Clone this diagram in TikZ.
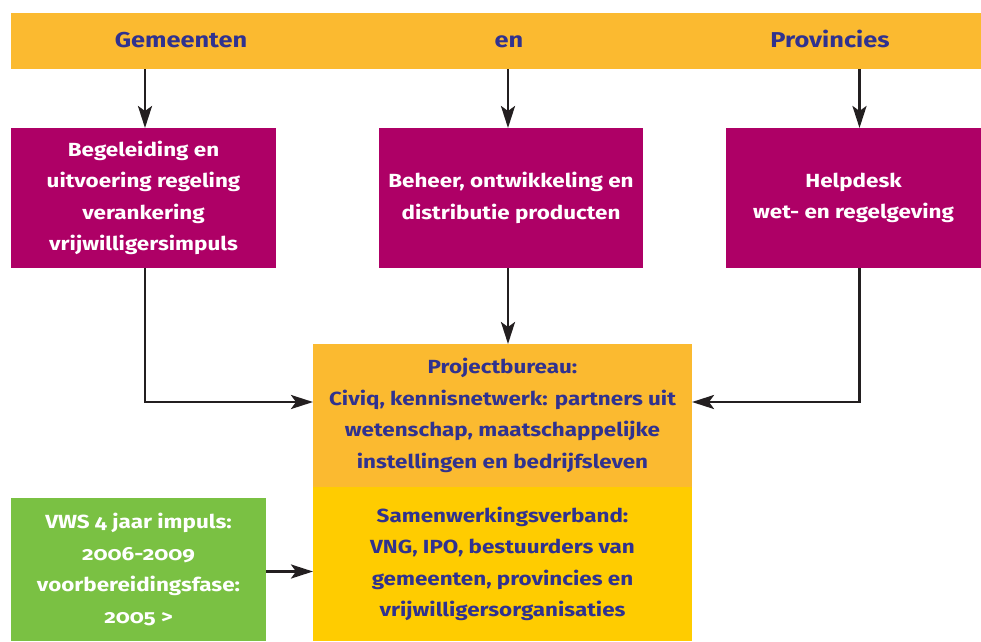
\documentclass[tikz,border=0pt]{standalone}
\usepackage{fontspec}
\setmainfont{Fira Sans}[Numbers=OldStyle, FakeStretch=1.18]
\usetikzlibrary{arrows.meta}
\definecolor{barorange}{HTML}{FBBA30}
\definecolor{magentabox}{HTML}{AE0066}
\definecolor{yellowbox}{HTML}{FFCC00}
\definecolor{greenbox}{HTML}{7AC143}
\definecolor{navytext}{HTML}{30328F}
\definecolor{arrowblack}{HTML}{231F20}
\begin{document}
\begin{tikzpicture}[x=1pt,y=1pt,
  box/.style={rectangle, inner sep=0pt, outer sep=0pt, align=center,
    font=\bfseries\fontsize{19}{31.5}\selectfont},
  barlabel/.style={inner sep=0pt, anchor=base, text=navytext, font=\bfseries\fontsize{21.5}{26}\selectfont},
  conn/.style={draw=arrowblack, line width=2.8pt,
    -{Stealth[length=22pt,width=14pt,inset=5pt]}}]
\useasboundingbox (0,0) rectangle (981,-641);
% top bar
\node[box, fill=barorange, minimum width=970pt, minimum height=56pt] (bar) at (496,-41) {};
\node[barlabel] (gem) at (181,-47.5) {Gemeenten};
\node[barlabel] (en) at (509,-47.5) {en};
\node[barlabel] (prov) at (830,-47.5) {Provincies};
% magenta boxes
\node[box, fill=magentabox, text=white, minimum width=265pt, minimum height=140pt] (b1) at (143.5,-198)
  {Begeleiding en\\uitvoering regeling\\verankering\\vrijwilligersimpuls};
\node[box, fill=magentabox, text=white, minimum width=264pt, minimum height=140pt] (b2) at (511,-198)
  {Beheer, ontwikkeling en\\distributie producten};
\node[box, fill=magentabox, text=white, minimum width=255pt, minimum height=140pt] (b3) at (853.5,-198)
  {Helpdesk\\wet- en regelgeving};
% centre boxes
\node[box, fill=barorange, text=navytext, minimum width=379pt, minimum height=143pt] (pb) at (502.5,-415.5)
  {Projectbureau:\\Civiq, kennisnetwerk: partners uit\\wetenschap, maatschappelijke\\instellingen en bedrijfsleven};
\node[box, fill=yellowbox, text=navytext, minimum width=379pt, minimum height=154pt] (sv) at (502.5,-564)
  {Samenwerkingsverband:\\VNG, IPO, bestuurders van\\gemeenten, provincies en\\vrijwilligersorganisaties};
% green box
\node[box, fill=greenbox, text=white, minimum width=255pt, minimum height=143pt] (vws) at (138.5,-569.5)
  {VWS 4 jaar impuls:\\2006-2009\\voorbereidingsfase:\\2005 >};
% connectors
\draw[conn] ([xshift=1.5pt]b1.north |- bar.south) -- ([xshift=1.5pt]b1.north);
\draw[conn] ([xshift=-3pt]b2.north |- bar.south) -- ([xshift=-3pt]b2.north);
\draw[conn] ([xshift=6pt]b3.north |- bar.south) -- ([xshift=6pt]b3.north);
\draw[conn] ([xshift=1.5pt]b1.south) |- ([yshift=13.5pt]pb.west);
\draw[conn] ([xshift=-3pt]b2.south) -- ([xshift=5.5pt]pb.north);
\draw[conn] ([xshift=6pt]b3.south) |- ([yshift=13.5pt]pb.east);
\draw[conn] ([yshift=-2pt]vws.east) -- ([yshift=-2pt]vws.east -| sv.west);
\end{tikzpicture}
\end{document}
